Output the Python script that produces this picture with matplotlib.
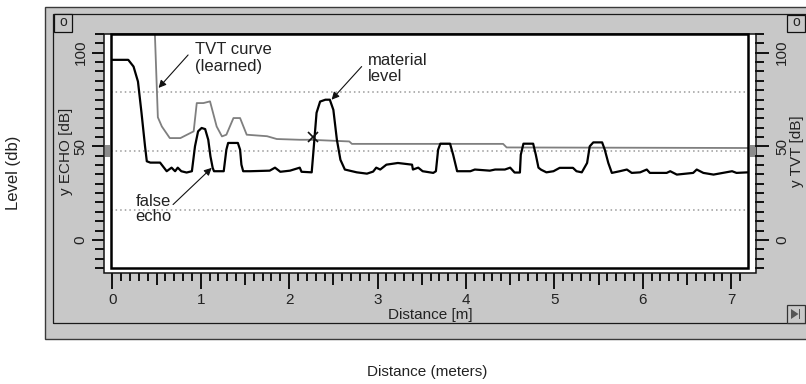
import matplotlib
matplotlib.use('Agg')
import matplotlib.pyplot as plt
from matplotlib.patches import Rectangle, Polygon
from matplotlib.ticker import FixedLocator
import matplotlib.transforms as mtransforms

plt.rcParams['font.family'] = ['Liberation Sans', 'DejaVu Sans']

# ---------------- data ----------------
echo_dist = [0.00, 0.18, 0.24, 0.29, 0.33, 0.37, 0.39, 0.43, 0.54, 0.615, 0.67, 0.71,
             0.74, 0.78, 0.84, 0.90, 0.935, 0.97, 1.01, 1.05, 1.085, 1.11, 1.135, 1.15,
             1.26, 1.29, 1.31, 1.42, 1.445, 1.46, 1.48, 1.56, 1.78, 1.84, 1.90, 2.01,
             2.12, 2.14, 2.255, 2.27, 2.31, 2.35, 2.41, 2.46, 2.50, 2.54, 2.58, 2.63,
             2.765, 2.88, 2.95, 2.985, 3.03, 3.10, 3.23, 3.39, 3.40, 3.46, 3.51, 3.63,
             3.66, 3.685, 3.71, 3.82, 3.855, 3.90, 4.05, 4.10, 4.27, 4.33, 4.44, 4.50,
             4.55, 4.61, 4.62, 4.65, 4.76, 4.79, 4.82, 4.85, 4.91, 4.99, 5.06, 5.21,
             5.25, 5.31, 5.37, 5.40, 5.44, 5.54, 5.57, 5.61, 5.65, 5.74, 5.82, 5.875,
             5.97, 6.045, 6.08, 6.27, 6.31, 6.385, 6.57, 6.61, 6.685, 6.80, 7.01, 7.06,
             7.19]
echo_db = [96.2, 96.2, 92.6, 84.6, 67.9, 50.0, 42.0, 41.3, 41.3, 36.7, 38.6, 36.7,
           38.6, 36.7, 36.0, 36.7, 50.0, 58.0, 59.8, 59.2, 53.5, 44.6, 38.5, 36.7,
           36.7, 48.2, 51.8, 51.8, 48.2, 40.2, 36.7, 36.7, 37.0, 38.6, 36.4, 37.0,
           38.6, 36.4, 36.1, 44.6, 67.9, 73.9, 74.9, 74.9, 69.5, 53.5, 42.8, 37.6,
           36.1, 35.4, 36.5, 38.6, 37.6, 40.2, 41.1, 40.2, 37.6, 38.6, 36.7, 35.8,
           36.7, 48.2, 51.4, 51.4, 45.5, 36.7, 36.7, 37.6, 37.0, 37.6, 37.6, 38.6,
           36.0, 36.0, 45.5, 51.4, 51.4, 45.5, 38.6, 37.5, 36.1, 36.7, 38.5, 38.5,
           36.7, 36.1, 41.1, 50.0, 52.1, 52.1, 48.2, 41.1, 35.8, 36.7, 37.6, 35.8,
           36.1, 37.6, 35.8, 35.8, 36.7, 34.9, 35.8, 37.6, 35.8, 34.9, 36.7, 35.8,
           36.1]

tvt_dist = [0.47, 0.515, 0.56, 0.65, 0.77, 0.92, 0.955, 1.03, 1.105, 1.18, 1.24, 1.29,
            1.37, 1.445, 1.52, 1.75, 1.86, 2.12, 2.24, 2.68, 2.71, 4.42, 4.46, 7.19]
tvt_db = [125.0, 65.5, 60.6, 54.4, 54.4, 58.0, 73.1, 73.1, 74.0, 60.6, 55.3, 56.2,
          65.1, 65.1, 56.2, 55.4, 53.9, 53.5, 53.5, 52.6, 51.3, 51.3, 49.4, 49.1]

cross_dist = [2.265]
cross_db = [54.9]

x_major = [0, 1, 2, 3, 4, 5, 6, 7]
x_labels = ['0', '1', '2', '3', '4', '5', '6', '7']
y_major = [0, 50, 100]
y_labels = ['0', '50', '100']
x_lim = (-0.015, 7.19)
y_lim = (-15, 110)

# ---------------- figure / panel ----------------
W, H = 806, 384
fig = plt.figure(figsize=(W / 100, H / 100), dpi=100)
PT = 0.72  # points per pixel


def fx(p):
    return p / W


def fy(p):
    return 1 - p / H


def frect(x0, y0, x1, y1, **kw):
    r = Rectangle((fx(x0), fy(y1)), fx(x1) - fx(x0), fy(y0) - fy(y1),
                  transform=fig.transFigure, **kw)
    fig.add_artist(r)
    return r


PANEL = '#c8c8c8'
frect(44.7, 6.7, 840, 339.3, facecolor=PANEL, edgecolor='#3a3a3a', lw=1.0, zorder=-5)
frect(53.3, 14, 850, 323.3, fill=False, edgecolor='#1a1a1a', lw=0.9, zorder=-4)
frect(104, 33.5, 756, 273, facecolor='white', edgecolor='#111111', lw=1.1, zorder=-3)

# small widget boxes
frect(54, 14, 72, 32, facecolor=PANEL, edgecolor='#111111', lw=0.9, zorder=-2)
fig.text(fx(63), fy(22), 'o', ha='center', va='center', fontsize=10, color='#222222')
frect(787, 15, 805, 32, facecolor=PANEL, edgecolor='#111111', lw=0.9, zorder=-2)
fig.text(fx(796), fy(22), 'o', ha='center', va='center', fontsize=10, color='#222222')
frect(787, 305, 805, 323, facecolor=PANEL, edgecolor='#333333', lw=0.9, zorder=-2)
fig.add_artist(Polygon([(fx(791), fy(309)), (fx(791), fy(319)), (fx(798.5), fy(314))],
                       closed=True, transform=fig.transFigure, facecolor='#555555',
                       edgecolor='none', zorder=-1))
frect(798.5, 309, 800.5, 319, facecolor='#555555', edgecolor='none', zorder=-1)

# ---------------- axes ----------------
ax = fig.add_axes([fx(111), fy(268), fx(748) - fx(111), fy(34) - fy(268)])
ax.set_xlim(*x_lim)
ax.set_ylim(*y_lim)
for s in ax.spines.values():
    s.set_visible(False)
ax.spines['left'].set_position(('outward', 7 * PT))
ax.spines['bottom'].set_position(('outward', 5 * PT))

# grid lines at quarters of the range
q = (y_lim[1] - y_lim[0]) / 4
for k in (1, 2, 3):
    ax.axhline(y_lim[0] + k * q, color='#9a9a9a', lw=1.1, ls=(0, (1, 2)), zorder=1)

ax.plot(tvt_dist, tvt_db, color='#7f7f7f', lw=1.3, zorder=3)
ax.plot(echo_dist, echo_db, color='black', lw=1.6, zorder=4, solid_joinstyle='round')
ax.plot(cross_dist, cross_db, marker='x', ls='none', color='#111111', ms=6.5, mew=1.2, zorder=5)

# thick inner frame
ax.add_patch(Rectangle((0, 0), 1, 1, transform=ax.transAxes, fill=False,
                       edgecolor='black', lw=1.8, clip_on=False, zorder=6))

# y ticks (left)
ax.yaxis.set_major_locator(FixedLocator(y_major))
ax.set_yticklabels(y_labels)
ax.yaxis.set_minor_locator(FixedLocator([v for v in range(-15, 111, 5) if v not in y_major]))
ax.tick_params(axis='y', which='major', direction='out', length=12 * PT, width=1.4,
               pad=3, labelsize=11, labelrotation=90, color='#111111', labelcolor='#222222')
ax.tick_params(axis='y', which='minor', direction='out', length=9 * PT, width=1.4,
               color='#111111')
for lbl in ax.get_yticklabels():
    lbl.set_va('center')

# x ticks
ax.xaxis.set_major_locator(FixedLocator(x_major))
ax.set_xticklabels(x_labels)
ax.xaxis.set_minor_locator(FixedLocator([i / 10 for i in range(0, 72) if i % 5 != 0]))
ax.tick_params(axis='x', which='major', direction='out', length=16 * PT, width=1.4,
               pad=3, labelsize=11, color='#111111', labelcolor='#222222')
ax.tick_params(axis='x', which='minor', direction='out', length=8 * PT, width=1.4,
               color='#111111')

ax.set_xlabel('Distance [m]', fontsize=11, color='#222222')
ax.xaxis.set_label_coords(0.5008, -0.201)
ax.xaxis.label.set_va('center')
ax.set_ylabel('y ECHO [dB]', fontsize=11, color='#222222')
ax.yaxis.set_label_coords(-0.0706, 0.5)
ax.yaxis.label.set_va('center')

# half-metre ticks
ax3 = ax.twiny()
ax3.set_xlim(*x_lim)
for s in ax3.spines.values():
    s.set_visible(False)
ax3.xaxis.tick_bottom()
ax3.spines['bottom'].set_position(('outward', 5 * PT))
ax3.xaxis.set_major_locator(FixedLocator([k + 0.5 for k in range(7)]))
ax3.tick_params(axis='x', which='major', direction='out', length=12 * PT, width=1.4,
                color='#111111', labelbottom=False, labeltop=False, top=False)

# right axis
ax2 = ax.twinx()
ax2.set_ylim(*y_lim)
for s in ax2.spines.values():
    s.set_visible(False)
ax2.spines['right'].set_position(('outward', 7 * PT))
ax2.yaxis.set_major_locator(FixedLocator(y_major))
ax2.set_yticklabels(y_labels)
ax2.yaxis.set_minor_locator(FixedLocator([v for v in range(-15, 111, 5) if v not in y_major]))
ax2.tick_params(axis='y', which='major', direction='out', length=14 * PT, width=1.4,
                pad=4.5, labelsize=11, labelrotation=90, color='#111111', labelcolor='#222222')
ax2.tick_params(axis='y', which='minor', direction='out', length=9 * PT, width=1.4,
                color='#111111')
for lbl in ax2.get_yticklabels():
    lbl.set_va('center')
ax2.set_ylabel('y TVT [dB]', fontsize=11, color='#222222')
ax2.yaxis.set_label_coords(1.077, 0.5)
ax2.yaxis.label.set_va('center')

# gray markers on the frame at mid level
mid = y_lim[0] + 2 * q
bl = mtransforms.blended_transform_factory(fig.transFigure, ax.transData)
for x0, x1 in ((104.5, 109.5), (749.5, 755.5)):
    fig.add_artist(Rectangle((fx(x0), mid - 3.2), fx(x1) - fx(x0), 6.4, transform=bl,
                             facecolor='#8c8c8c', edgecolor='none', zorder=-2.5))

# annotations
arrow = dict(arrowstyle='-|>', color='#111111', lw=0.8, mutation_scale=11,
             shrinkA=0, shrinkB=0)
ax.annotate('', xy=(0.523, 81.2), xytext=(0.857, 98.8), arrowprops=arrow, zorder=7)
ax.text(0.935, 97.2, 'TVT curve\n(learned)', ha='left', va='center', fontsize=12,
        color='#222222', linespacing=1.15, zorder=7)
ax.annotate('', xy=(2.48, 74.9), xytext=(2.82, 92.6), arrowprops=arrow, zorder=7)
ax.text(2.89, 91.7, 'material\nlevel', ha='left', va='center', fontsize=12,
        color='#222222', linespacing=1.05, zorder=7)
ax.annotate('', xy=(1.124, 38.5), xytext=(0.687, 18.9), arrowprops=arrow, zorder=7)
ax.text(0.26, 16.5, 'false\necho', ha='left', va='center', fontsize=12,
        color='#222222', linespacing=0.95, zorder=7)

# outer labels
fig.text(fx(14), fy(173), 'Level (db)', rotation=90, ha='center', va='center',
         fontsize=12, color='#222222')
fig.text(fx(427), fy(372), 'Distance (meters)', ha='center', va='center',
         fontsize=11, color='#222222')

fig.savefig('out.png', dpi=100)
